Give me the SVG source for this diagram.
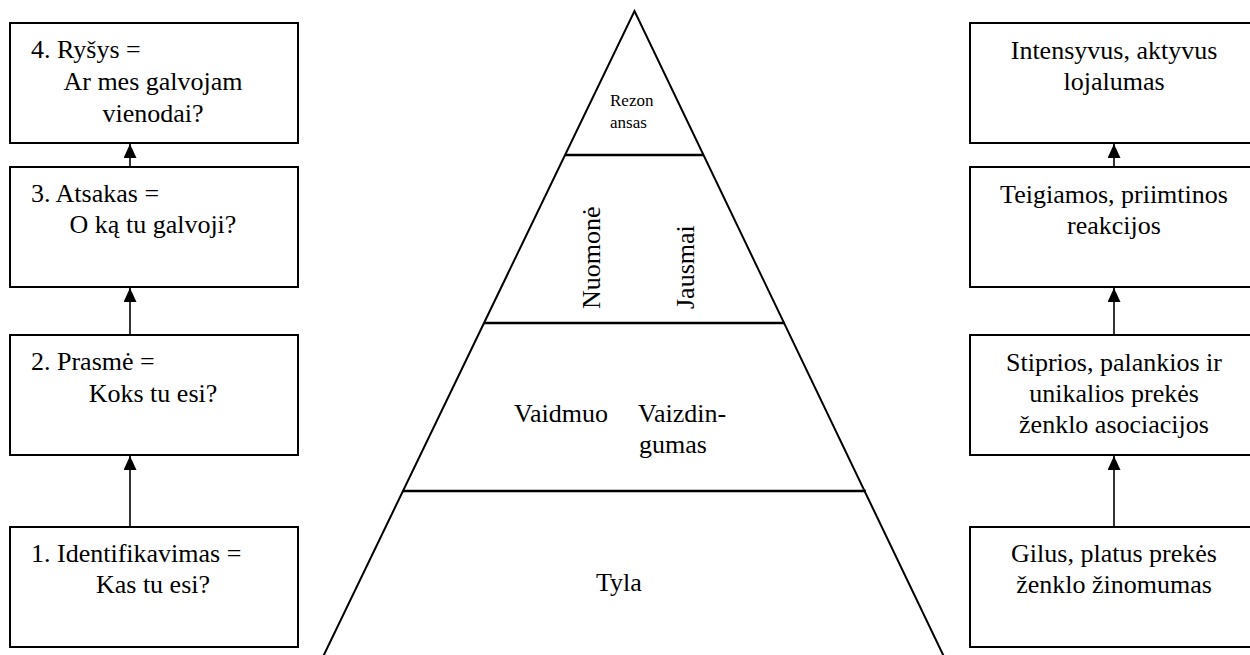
<svg xmlns="http://www.w3.org/2000/svg" width="1250" height="655" viewBox="0 0 1250 655">
  <style>
    .box { fill: #ffffff; stroke: #000000; stroke-width: 2; }
    .t { font-family: 'Liberation Serif', 'DejaVu Serif', serif; font-size: 26px; fill: #000000; }
    .c { text-anchor: middle; }
    .small { font-size: 17px; }
    .edge { fill: none; stroke: #000000; stroke-width: 2; }
    .tier { stroke: #000000; stroke-width: 2.5; }
    .conn { stroke: #000000; stroke-width: 1.6; fill: none; marker-end: url(#head); }
  </style>
  <defs>
    <marker id="head" viewBox="0 0 14 13" refX="14" refY="6.5" markerWidth="14" markerHeight="13" markerUnits="userSpaceOnUse" orient="auto">
      <path d="M0,0 L14,6.5 L0,13 Z" fill="#000000"/>
    </marker>
  </defs>

  <rect width="1250" height="655" fill="#ffffff"/>

  <!-- left column: communication levels -->
  <g id="rysys">
    <rect class="box" x="10" y="23" width="288" height="120"/>
    <text class="t" x="31" y="58">4. Ryšys =</text>
    <text class="t c" x="153" y="90">Ar mes galvojam</text>
    <text class="t c" x="153" y="122">vienodai?</text>
  </g>
  <g id="atsakas">
    <rect class="box" x="10" y="167" width="288" height="120"/>
    <text class="t" x="31" y="202">3. Atsakas =</text>
    <text class="t c" x="153" y="233">O ką tu galvoji?</text>
  </g>
  <g id="prasme">
    <rect class="box" x="10" y="335" width="288" height="120"/>
    <text class="t" x="31" y="370">2. Prasmė =</text>
    <text class="t c" x="153" y="402">Koks tu esi?</text>
  </g>
  <g id="identifikavimas">
    <rect class="box" x="10" y="527" width="288" height="120"/>
    <text class="t" x="31" y="562">1. Identifikavimas =</text>
    <text class="t c" x="153" y="593">Kas tu esi?</text>
  </g>

  <!-- centre: pyramid -->
  <g id="piramide">
    <polyline class="edge" points="320,663 634.5,11 947,663"/>
    <line class="tier" x1="565" y1="155" x2="704" y2="155"/>
    <line class="tier" x1="484" y1="323" x2="785" y2="323"/>
    <line class="tier" x1="403" y1="491" x2="866" y2="491"/>
  </g>
  <g id="rezonansas">
    <text class="t small" x="610" y="106">Rezon</text>
    <text class="t small" x="610" y="128">ansas</text>
  </g>
  <g id="nuomone-jausmai">
    <text class="t" transform="translate(600,309) rotate(-90)">Nuomonė</text>
    <text class="t" transform="translate(694,309) rotate(-90)">Jausmai</text>
  </g>
  <g id="vaidmuo-vaizdingumas">
    <text class="t" x="514" y="422">Vaidmuo</text>
    <text class="t" x="638" y="422">Vaizdin-</text>
    <text class="t" x="639" y="453">gumas</text>
  </g>
  <g id="tyla">
    <text class="t" x="596" y="591">Tyla</text>
  </g>

  <!-- right column: brand equity steps -->
  <g id="lojalumas">
    <rect class="box" x="970" y="23" width="288" height="120"/>
    <text class="t c" x="1114" y="59">Intensyvus, aktyvus</text>
    <text class="t c" x="1114" y="90">lojalumas</text>
  </g>
  <g id="reakcijos">
    <rect class="box" x="970" y="167" width="288" height="120"/>
    <text class="t c" x="1114" y="203">Teigiamos, priimtinos</text>
    <text class="t c" x="1114" y="234">reakcijos</text>
  </g>
  <g id="asociacijos">
    <rect class="box" x="970" y="335" width="288" height="120"/>
    <text class="t c" x="1114" y="371">Stiprios, palankios ir</text>
    <text class="t c" x="1114" y="402">unikalios prekės</text>
    <text class="t c" x="1114" y="433">ženklo asociacijos</text>
  </g>
  <g id="zinomumas">
    <rect class="box" x="970" y="527" width="288" height="120"/>
    <text class="t c" x="1114" y="562">Gilus, platus prekės</text>
    <text class="t c" x="1114" y="593">ženklo žinomumas</text>
  </g>

  <!-- connectors -->
  <g id="connectors">
    <line class="conn" x1="130" y1="167" x2="130" y2="144"/>
    <line class="conn" x1="130" y1="335" x2="130" y2="288"/>
    <line class="conn" x1="130" y1="527" x2="130" y2="456"/>
    <line class="conn" x1="1114" y1="167" x2="1114" y2="144"/>
    <line class="conn" x1="1114" y1="335" x2="1114" y2="288"/>
    <line class="conn" x1="1114" y1="527" x2="1114" y2="456"/>
  </g>
</svg>
